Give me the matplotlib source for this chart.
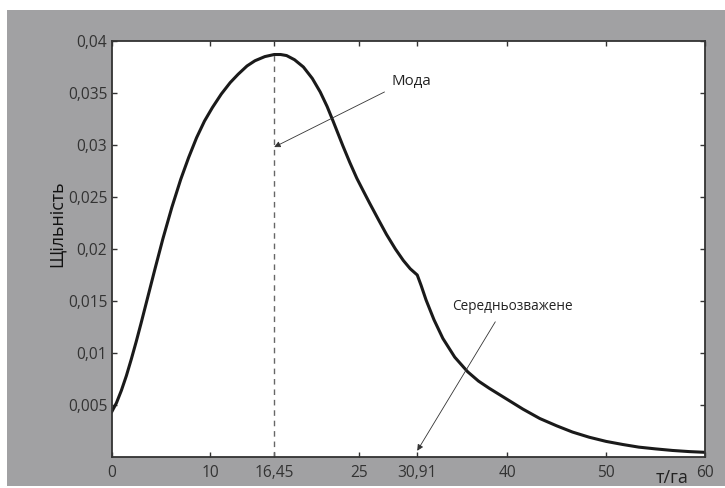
import matplotlib
matplotlib.use("Agg")
import matplotlib.pyplot as plt
from matplotlib.patches import Rectangle
from matplotlib.ticker import FixedLocator, FixedFormatter

plt.rcParams['font.family'] = ['Open Sans', 'DejaVu Sans']

# density curve, yield (t/ha) vs density
yield_t = [0.0, 0.5, 1.0, 1.5, 2.0, 2.5, 3.0, 3.7, 4.4, 5.2, 6.1, 7.0, 7.8,
           8.6, 9.4, 10.2, 11.1, 12.0, 12.8, 13.7, 14.5, 15.5, 16.45, 17.1,
           17.7, 18.5, 19.4, 20.3, 21.1, 21.8, 22.4, 22.9, 23.4, 24.1, 24.8,
           25.5, 26.1, 27.0, 27.8, 28.7, 29.5, 30.2, 30.91, 31.3, 31.8, 32.6,
           33.5, 34.7, 36.0, 37.1, 38.2, 39.9, 41.6, 43.3, 45.0, 46.6, 48.3,
           50.0, 51.7, 53.3, 55.0, 56.7, 58.4, 60.0]
density = [0.0043, 0.0052, 0.0064, 0.0078, 0.0094, 0.0111, 0.0129, 0.0155,
           0.0181, 0.0210, 0.0240, 0.0267, 0.0288, 0.0307, 0.0323, 0.0336,
           0.0349, 0.0360, 0.0368, 0.0376, 0.0381, 0.0385, 0.0387, 0.0387,
           0.0386, 0.0382, 0.0375, 0.0364, 0.0351, 0.0337, 0.0323, 0.0311,
           0.0299, 0.0283, 0.0268, 0.0255, 0.0244, 0.0228, 0.0214, 0.0200,
           0.0189, 0.0181, 0.0175, 0.0165, 0.0151, 0.0132, 0.0114, 0.0096,
           0.0082, 0.0073, 0.0066, 0.0056, 0.0046, 0.0037, 0.0030, 0.0024,
           0.0019, 0.0015, 0.0012, 0.00095, 0.00078, 0.00063, 0.00052,
           0.00045]

mode_x = 16.45
mean_x = 30.91
mode_y = 0.0387

x_ticks = [0, 10, 16.45, 25, 30.91, 40, 50, 60]
x_labels = ["0", "10", "16,45", "25", "30,91", "40", "50", "60"]
y_ticks = [0.005, 0.01, 0.015, 0.02, 0.025, 0.03, 0.035, 0.04]
y_labels = ["0,005", "0,01", "0,015", "0,02", "0,025", "0,03", "0,035", "0,04"]

fig = plt.figure(figsize=(7.25, 4.88), dpi=100, facecolor="white")
fig.patches.append(Rectangle((7 / 725, 2 / 488), 1, 476 / 488,
                             transform=fig.transFigure, facecolor="#a1a1a3",
                             edgecolor="none", zorder=-10))

ax = fig.add_axes([111.5 / 725, 31 / 488, 593.5 / 725, 416 / 488])
ax.set_zorder(1)
ax.set_facecolor("white")

ax.plot(yield_t, density, color="#1a1a1a", lw=2.2, solid_joinstyle="round",
        solid_capstyle="round")
ax.plot([mode_x, mode_x], [0, mode_y], color="#666666", lw=1.0,
        dashes=(4, 3.5))

ax.set_xlim(0, 60)
ax.set_ylim(0, 0.04)
ax.xaxis.set_major_locator(FixedLocator(x_ticks))
ax.xaxis.set_major_formatter(FixedFormatter(x_labels))
ax.yaxis.set_major_locator(FixedLocator(y_ticks))
ax.yaxis.set_major_formatter(FixedFormatter(y_labels))
ax.tick_params(direction="in", length=3.5, width=1, color="#333333",
               labelcolor="#333333", labelsize=11.2, top=True, right=True,
               pad=3)
ax.tick_params(axis="x", pad=6)
for s in ax.spines.values():
    s.set_color("#333333")
    s.set_linewidth(1.3)

arrow = dict(arrowstyle="-|>", lw=0.6, color="#333333", mutation_scale=9,
             shrinkA=0, shrinkB=0)
ax.annotate("", xy=(mode_x, 0.0298), xytext=(27.6, 0.0351),
            arrowprops=arrow)
ax.text(28.3, 0.0361, "Мода", fontsize=10.8, color="#222222", va="center")
ax.annotate("", xy=(mean_x, 0.0006), xytext=(38.8, 0.0130),
            arrowprops=arrow)
ax.text(34.4, 0.0145, "Середньозважене", fontsize=9.8, color="#222222",
        va="center")

fig.text(57 / 725, 1 - 224 / 488, "Щільність", rotation=90, fontsize=12.8,
         color="#111111", ha="center", va="center")
fig.text(672 / 725, 1 - 478 / 488, "т/га", fontsize=13, color="#222222",
         ha="center", va="center")

fig.savefig("out.png", dpi=100, facecolor=fig.get_facecolor())
